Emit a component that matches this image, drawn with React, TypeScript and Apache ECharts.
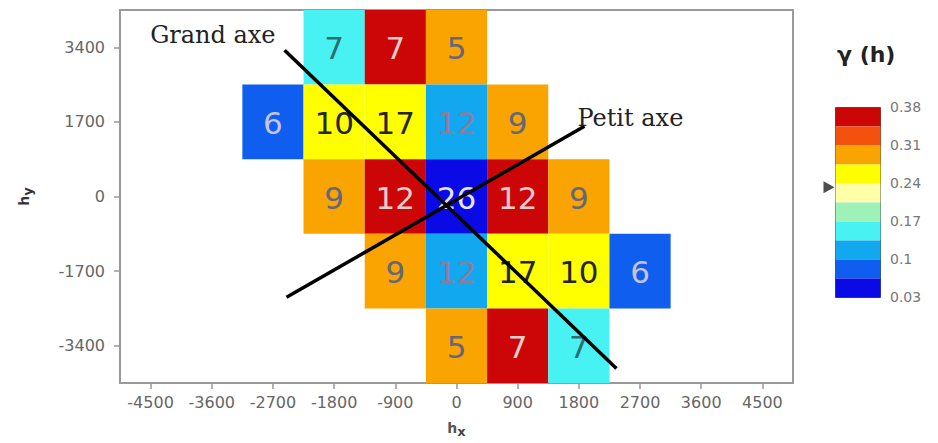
import React, { useEffect, useRef } from "react";
import * as echarts from "echarts";

// ---- data ----
const X_TICKS = [-4500, -3600, -2700, -1800, -900, 0, 900, 1800, 2700, 3600, 4500];
const Y_TICKS = [-3400, -1700, 0, 1700, 3400];

// cells of the variogram map: lag hx, lag hy, gamma(h), number of pairs
const CELL_HX = [-1800, -900, 0, -2700, -1800, -900, 0, 900, -1800, -900, 0, 900, 1800, -900, 0, 900, 1800, 2700, 0, 900, 1800];
const CELL_HY = [3400, 3400, 3400, 1700, 1700, 1700, 1700, 1700, 0, 0, 0, 0, 0, -1700, -1700, -1700, -1700, -1700, -3400, -3400, -3400];
const CELL_GAMMA = [0.15, 0.36, 0.29, 0.08, 0.26, 0.26, 0.12, 0.29, 0.29, 0.36, 0.04, 0.36, 0.29, 0.29, 0.12, 0.26, 0.26, 0.08, 0.29, 0.36, 0.15];
const CELL_PAIRS = [7, 7, 5, 6, 10, 17, 12, 9, 9, 12, 26, 12, 9, 9, 12, 17, 10, 6, 5, 7, 7];

// anisotropy axes (in lag units)
const GRAND_AXE_HX = [-2529, 2353];
const GRAND_AXE_HY = [3333, -3918];
const PETIT_AXE_HX = [-2500, 1882];
const PETIT_AXE_HY = [-2297, 1599];

// colour key
const KEY_BREAKS = [0.03, 0.065, 0.1, 0.135, 0.17, 0.205, 0.24, 0.275, 0.31, 0.345, 0.38];
const KEY_COLORS = ["#0a0ae6", "#0f5ef0", "#12a8f0", "#48f2f2", "#9ef2b8", "#ffffa8", "#ffff00", "#f9a400", "#f4500e", "#cc0606"];
const KEY_LABEL_COLORS = ["#e6e6f8", "#c4c4dc", "#8c7c9c", "#2f6e70", "#444444", "#333333", "#262626", "#66667a", "#eeeeee", "#e4cccc"];
const KEY_TICKS = [0.03, 0.1, 0.17, 0.24, 0.31, 0.38];
const SILL = 0.232;

const X_STEP = X_TICKS[1] - X_TICKS[0];
const Y_STEP = Y_TICKS[1] - Y_TICKS[0];

function bandIndex(v: number) {
  for (let i = 0; i < KEY_BREAKS.length - 1; i++) {
    if (v >= KEY_BREAKS[i] && v < KEY_BREAKS[i + 1]) return i;
  }
  return KEY_BREAKS.length - 2;
}

export default function App() {
  const ref = useRef<HTMLDivElement>(null);
  useEffect(() => {
    document.body.style.margin = "0";
    if (!ref.current) return;
    const chart = echarts.init(ref.current, null, { renderer: "svg" });

    const cellData = CELL_HX.map((hx, i) => [hx, CELL_HY[i], CELL_GAMMA[i], CELL_PAIRS[i]]);
    const pieces = KEY_COLORS.map((c, i) => ({ min: KEY_BREAKS[i], max: KEY_BREAKS[i + 1], color: c }));

    const tickFont = { fontFamily: "DejaVu Sans", fontSize: 16, color: "#666", formatter: (v: number) => String(v) };
    const noteFont = { fontFamily: "DejaVu Serif", fontSize: 24, color: "#222" };

    chart.setOption({
      animation: false,
      title: {
        text: "γ (h)",
        left: 832,
        top: 38,
        textStyle: { fontFamily: "DejaVu Sans", fontSize: 22, fontWeight: "bold", color: "#222" },
      },
      grid: [
        { left: 120, top: 10, width: 673, height: 383, show: true, borderColor: "#9a9a9a", borderWidth: 2, backgroundColor: "#fff" },
        { left: 835, top: 107, width: 45, height: 190 },
      ],
      xAxis: [
        {
          type: "value",
          gridIndex: 0,
          min: X_TICKS[0] - X_STEP / 2,
          max: X_TICKS[X_TICKS.length - 1] + X_STEP / 2,
          splitLine: { show: false },
          axisLine: { show: true, onZero: false, lineStyle: { color: "#9a9a9a", width: 2 } },
          axisTick: { show: true, customValues: X_TICKS, length: 6, lineStyle: { color: "#999", width: 1.5 } },
          axisLabel: { customValues: X_TICKS, margin: 11, ...tickFont },
          name: "{h|h}{s|x}",
          nameLocation: "middle",
          nameGap: 34,
          nameTextStyle: {
            rich: {
              h: { fontFamily: "DejaVu Sans", fontSize: 14, fontWeight: "bold", color: "#555" },
              s: { fontFamily: "DejaVu Sans", fontSize: 13, fontWeight: "bold", color: "#444", padding: [8, 0, 0, 0] },
            },
          },
        },
        { type: "value", gridIndex: 1, min: 0, max: 1, show: false },
      ],
      yAxis: [
        {
          type: "value",
          gridIndex: 0,
          min: Y_TICKS[0] - Y_STEP / 2,
          max: Y_TICKS[Y_TICKS.length - 1] + Y_STEP / 2,
          splitLine: { show: false },
          axisLine: { show: true, onZero: false, lineStyle: { color: "#9a9a9a", width: 2 } },
          axisTick: { show: true, customValues: Y_TICKS, length: 6, lineStyle: { color: "#999", width: 1.5 } },
          axisLabel: { customValues: Y_TICKS, margin: 15, ...tickFont },
          name: "{h|h}{s|y}",
          nameLocation: "middle",
          nameRotate: 90,
          nameGap: 86,
          nameTextStyle: {
            rich: {
              h: { fontFamily: "DejaVu Sans", fontSize: 14, fontWeight: "bold", color: "#333" },
              s: { fontFamily: "DejaVu Sans", fontSize: 13, fontWeight: "bold", color: "#333", padding: [8, 0, 0, 0] },
            },
          },
        },
        {
          type: "value",
          gridIndex: 1,
          min: KEY_BREAKS[0],
          max: KEY_BREAKS[KEY_BREAKS.length - 1],
          position: "right",
          splitLine: { show: false },
          axisLine: { show: false },
          axisTick: { show: false },
          axisLabel: {
            customValues: KEY_TICKS,
            margin: 10,
            fontFamily: "DejaVu Sans",
            fontSize: 14,
            color: "#777",
            formatter: (v: number) => String(Math.round(v * 100) / 100),
          },
        },
      ],
      visualMap: {
        type: "piecewise",
        seriesIndex: 0,
        dimension: 2,
        pieces,
        orient: "vertical",
        left: 835,
        top: 107,
        itemWidth: 45,
        itemHeight: 19,
        itemGap: 0,
        itemSymbol: "rect",
        showLabel: false,
        padding: 0,
        borderColor: "#555",
        borderWidth: 1,
        selectedMode: false,
      },
      series: [
        {
          type: "custom",
          xAxisIndex: 0,
          yAxisIndex: 0,
          data: cellData,
          encode: { x: 0, y: 1 },
          renderItem: (params: any, api: any) => {
            const hx = api.value(0);
            const hy = api.value(1);
            const g = api.value(2);
            const n = api.value(3);
            const p0 = api.coord([hx - X_STEP / 2, hy + Y_STEP / 2]);
            const p1 = api.coord([hx + X_STEP / 2, hy - Y_STEP / 2]);
            return {
              type: "group",
              children: [
                {
                  type: "rect",
                  shape: { x: p0[0], y: p0[1], width: p1[0] - p0[0], height: p1[1] - p0[1] },
                  style: { fill: api.visual("color") },
                },
                {
                  type: "text",
                  style: {
                    text: String(n),
                    x: (p0[0] + p1[0]) / 2,
                    y: (p0[1] + p1[1]) / 2 + 1,
                    align: "center",
                    verticalAlign: "middle",
                    fill: KEY_LABEL_COLORS[bandIndex(g)],
                    font: "31px 'DejaVu Sans'",
                  },
                },
              ],
            };
          },
        },
        {
          type: "line",
          xAxisIndex: 0,
          yAxisIndex: 0,
          data: [
            {
              value: [GRAND_AXE_HX[0], GRAND_AXE_HY[0]],
              label: { show: true, formatter: "Grand axe", position: "left", offset: [-4, -15], ...noteFont },
            },
            [GRAND_AXE_HX[1], GRAND_AXE_HY[1]],
          ],
          symbol: "circle",
          symbolSize: 0,
          lineStyle: { color: "#000", width: 3.5 },
          z: 5,
        },
        {
          type: "line",
          xAxisIndex: 0,
          yAxisIndex: 0,
          data: [
            [PETIT_AXE_HX[0], PETIT_AXE_HY[0]],
            {
              value: [PETIT_AXE_HX[1], PETIT_AXE_HY[1]],
              label: { show: true, formatter: "Petit axe", position: "right", offset: [-12, -8], ...noteFont },
            },
          ],
          symbol: "circle",
          symbolSize: 0,
          lineStyle: { color: "#000", width: 3.5 },
          z: 5,
        },
        {
          type: "scatter",
          xAxisIndex: 1,
          yAxisIndex: 1,
          data: [[0, SILL]],
          symbol: "triangle",
          symbolRotate: -90,
          symbolSize: [12, 11],
          symbolOffset: [-6, 0],
          itemStyle: { color: "#222" },
          z: 6,
        },
      ],
    });
    return () => chart.dispose();
  }, []);
  return <div ref={ref} style={{ position: "absolute", left: 0, top: 0, width: 938, height: 443 }} />;
}
